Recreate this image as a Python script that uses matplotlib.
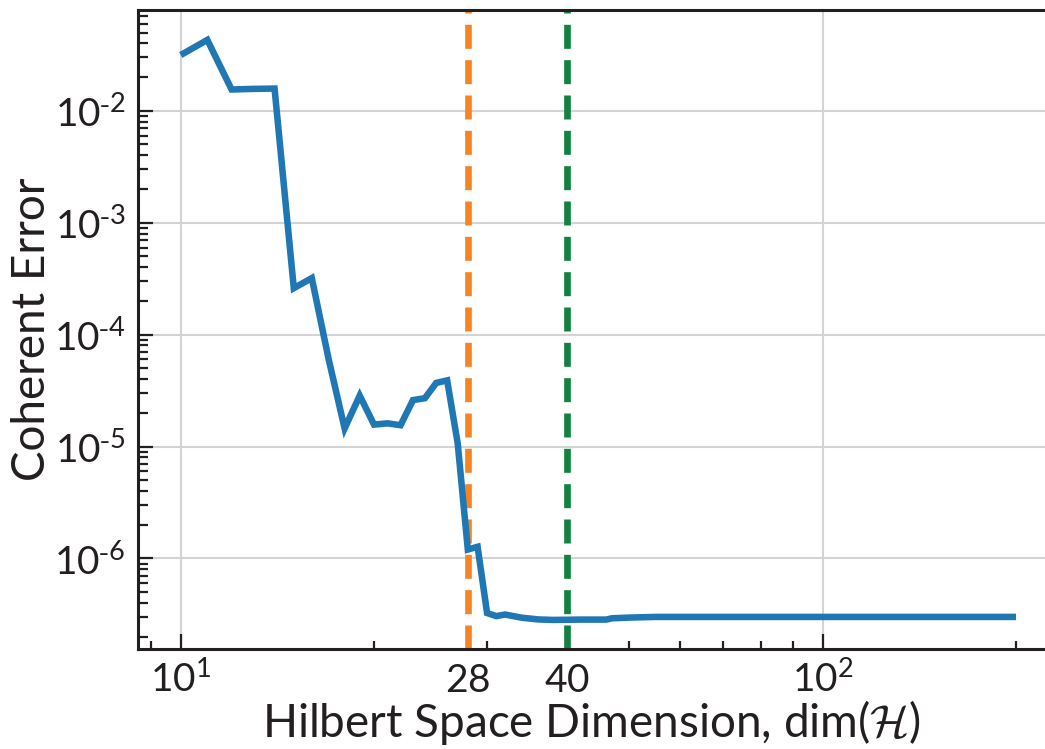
import numpy as np
import matplotlib
matplotlib.use("Agg")
import matplotlib.pyplot as plt
from matplotlib.ticker import FixedLocator, FuncFormatter, LogLocator, NullFormatter

plt.rcParams['font.family'] = ['Lato', 'DejaVu Sans']
plt.rcParams['mathtext.fontset'] = 'cm'

# Coherent error versus truncated Hilbert space dimension
dims = [10, 11, 12, 13, 14, 15, 16, 17, 18, 19, 20, 21, 22, 23, 24, 25, 26, 27,
        28, 29, 30, 31, 32, 34, 36, 38, 40, 42, 44, 46, 47, 48, 50, 55, 60, 70,
        80, 90, 100, 120, 150, 200]
coherent_error = [3.15e-2, 4.3e-2, 1.55e-2, 1.57e-2, 1.58e-2, 2.6e-4, 3.2e-4,
                  6.0e-5, 1.45e-5, 2.85e-5, 1.57e-5, 1.61e-5, 1.55e-5, 2.6e-5,
                  2.7e-5, 3.7e-5, 3.9e-5, 1.07e-5, 1.2e-6, 1.27e-6, 3.25e-7,
                  3.05e-7, 3.15e-7, 2.95e-7, 2.85e-7, 2.82e-7, 2.83e-7, 2.84e-7,
                  2.84e-7, 2.84e-7, 2.92e-7, 2.93e-7, 2.96e-7, 3.0e-7, 3.0e-7,
                  3.0e-7, 3.0e-7, 3.0e-7, 3.0e-7, 3.0e-7, 3.0e-7, 3.0e-7]

# Reference dimensions marked with dashed lines
marker_dims = [28, 40]
marker_colors = ['#F68424', '#11823F']


def decade_label(v, pos):
    e = int(round(np.log10(v)))
    sign = r'\text{-}' if e < 0 else ''
    return r'$\mathregular{10^{%s%d}}$' % (sign, abs(e))


fig = plt.figure(figsize=(10.45, 7.49), dpi=100)
ax = fig.add_axes([0.1321, 0.1335, 0.868, 0.853])

ax.set_xscale('log')
ax.set_yscale('log')
ax.set_xlim(8.58, 222)
ax.set_ylim(1.55e-7, 7.94e-2)

for d, c in zip(marker_dims, marker_colors):
    ax.axvline(d, color=c, lw=4.8, linestyle=(0, (3.6, 1.7)), zorder=2)

ax.plot(dims, coherent_error, color='#1F77B4', lw=4.7, zorder=3,
        solid_joinstyle='miter', solid_capstyle='butt')

# Ticks: decades as major, standard log subdivisions plus the marked dims as minor
ax.xaxis.set_major_locator(LogLocator(base=10, numticks=10))
ax.xaxis.set_major_formatter(FuncFormatter(decade_label))
minor_x = sorted(set([k * 10.0**e for e in range(0, 3) for k in range(2, 10)]
                     + marker_dims))
ax.xaxis.set_minor_locator(FixedLocator(minor_x))
ax.xaxis.set_minor_formatter(FuncFormatter(
    lambda v, p: r'$\mathregular{%d}$' % v if round(v) in marker_dims else ''))

ax.yaxis.set_major_locator(LogLocator(base=10, numticks=20))
ax.yaxis.set_major_formatter(FuncFormatter(decade_label))
ax.yaxis.set_minor_locator(LogLocator(base=10, subs=np.arange(2, 10), numticks=20))
ax.yaxis.set_minor_formatter(NullFormatter())

ax.tick_params(which='both', direction='in', color='#231F20', width=1.6,
               labelsize=28, labelcolor='#231F20')
ax.tick_params(axis='x', which='both', pad=31, top=False)
ax.tick_params(axis='y', which='both', pad=9, right=False)
ax.tick_params(which='major', length=11)
ax.tick_params(which='minor', length=7)
ax.tick_params(axis='x', which='minor', length=6)

ax.grid(True, which='major', color='#D3D3D3', lw=1.5)
ax.set_axisbelow(True)

for side in ['left', 'bottom', 'top']:
    ax.spines[side].set_linewidth(2.2)
    ax.spines[side].set_color('#231F20')
ax.spines['right'].set_visible(False)

ax.set_xlabel(r'Hilbert Space Dimension, dim($\mathcal{H}$)', fontsize=33,
              color='#231F20', labelpad=-1)
ax.set_ylabel('Coherent Error', fontsize=33, color='#231F20', labelpad=1)

for t in ax.xaxis.get_major_ticks() + ax.xaxis.get_minor_ticks():
    t.label1.set_va('baseline')

fig.savefig('out.png', dpi=100)
